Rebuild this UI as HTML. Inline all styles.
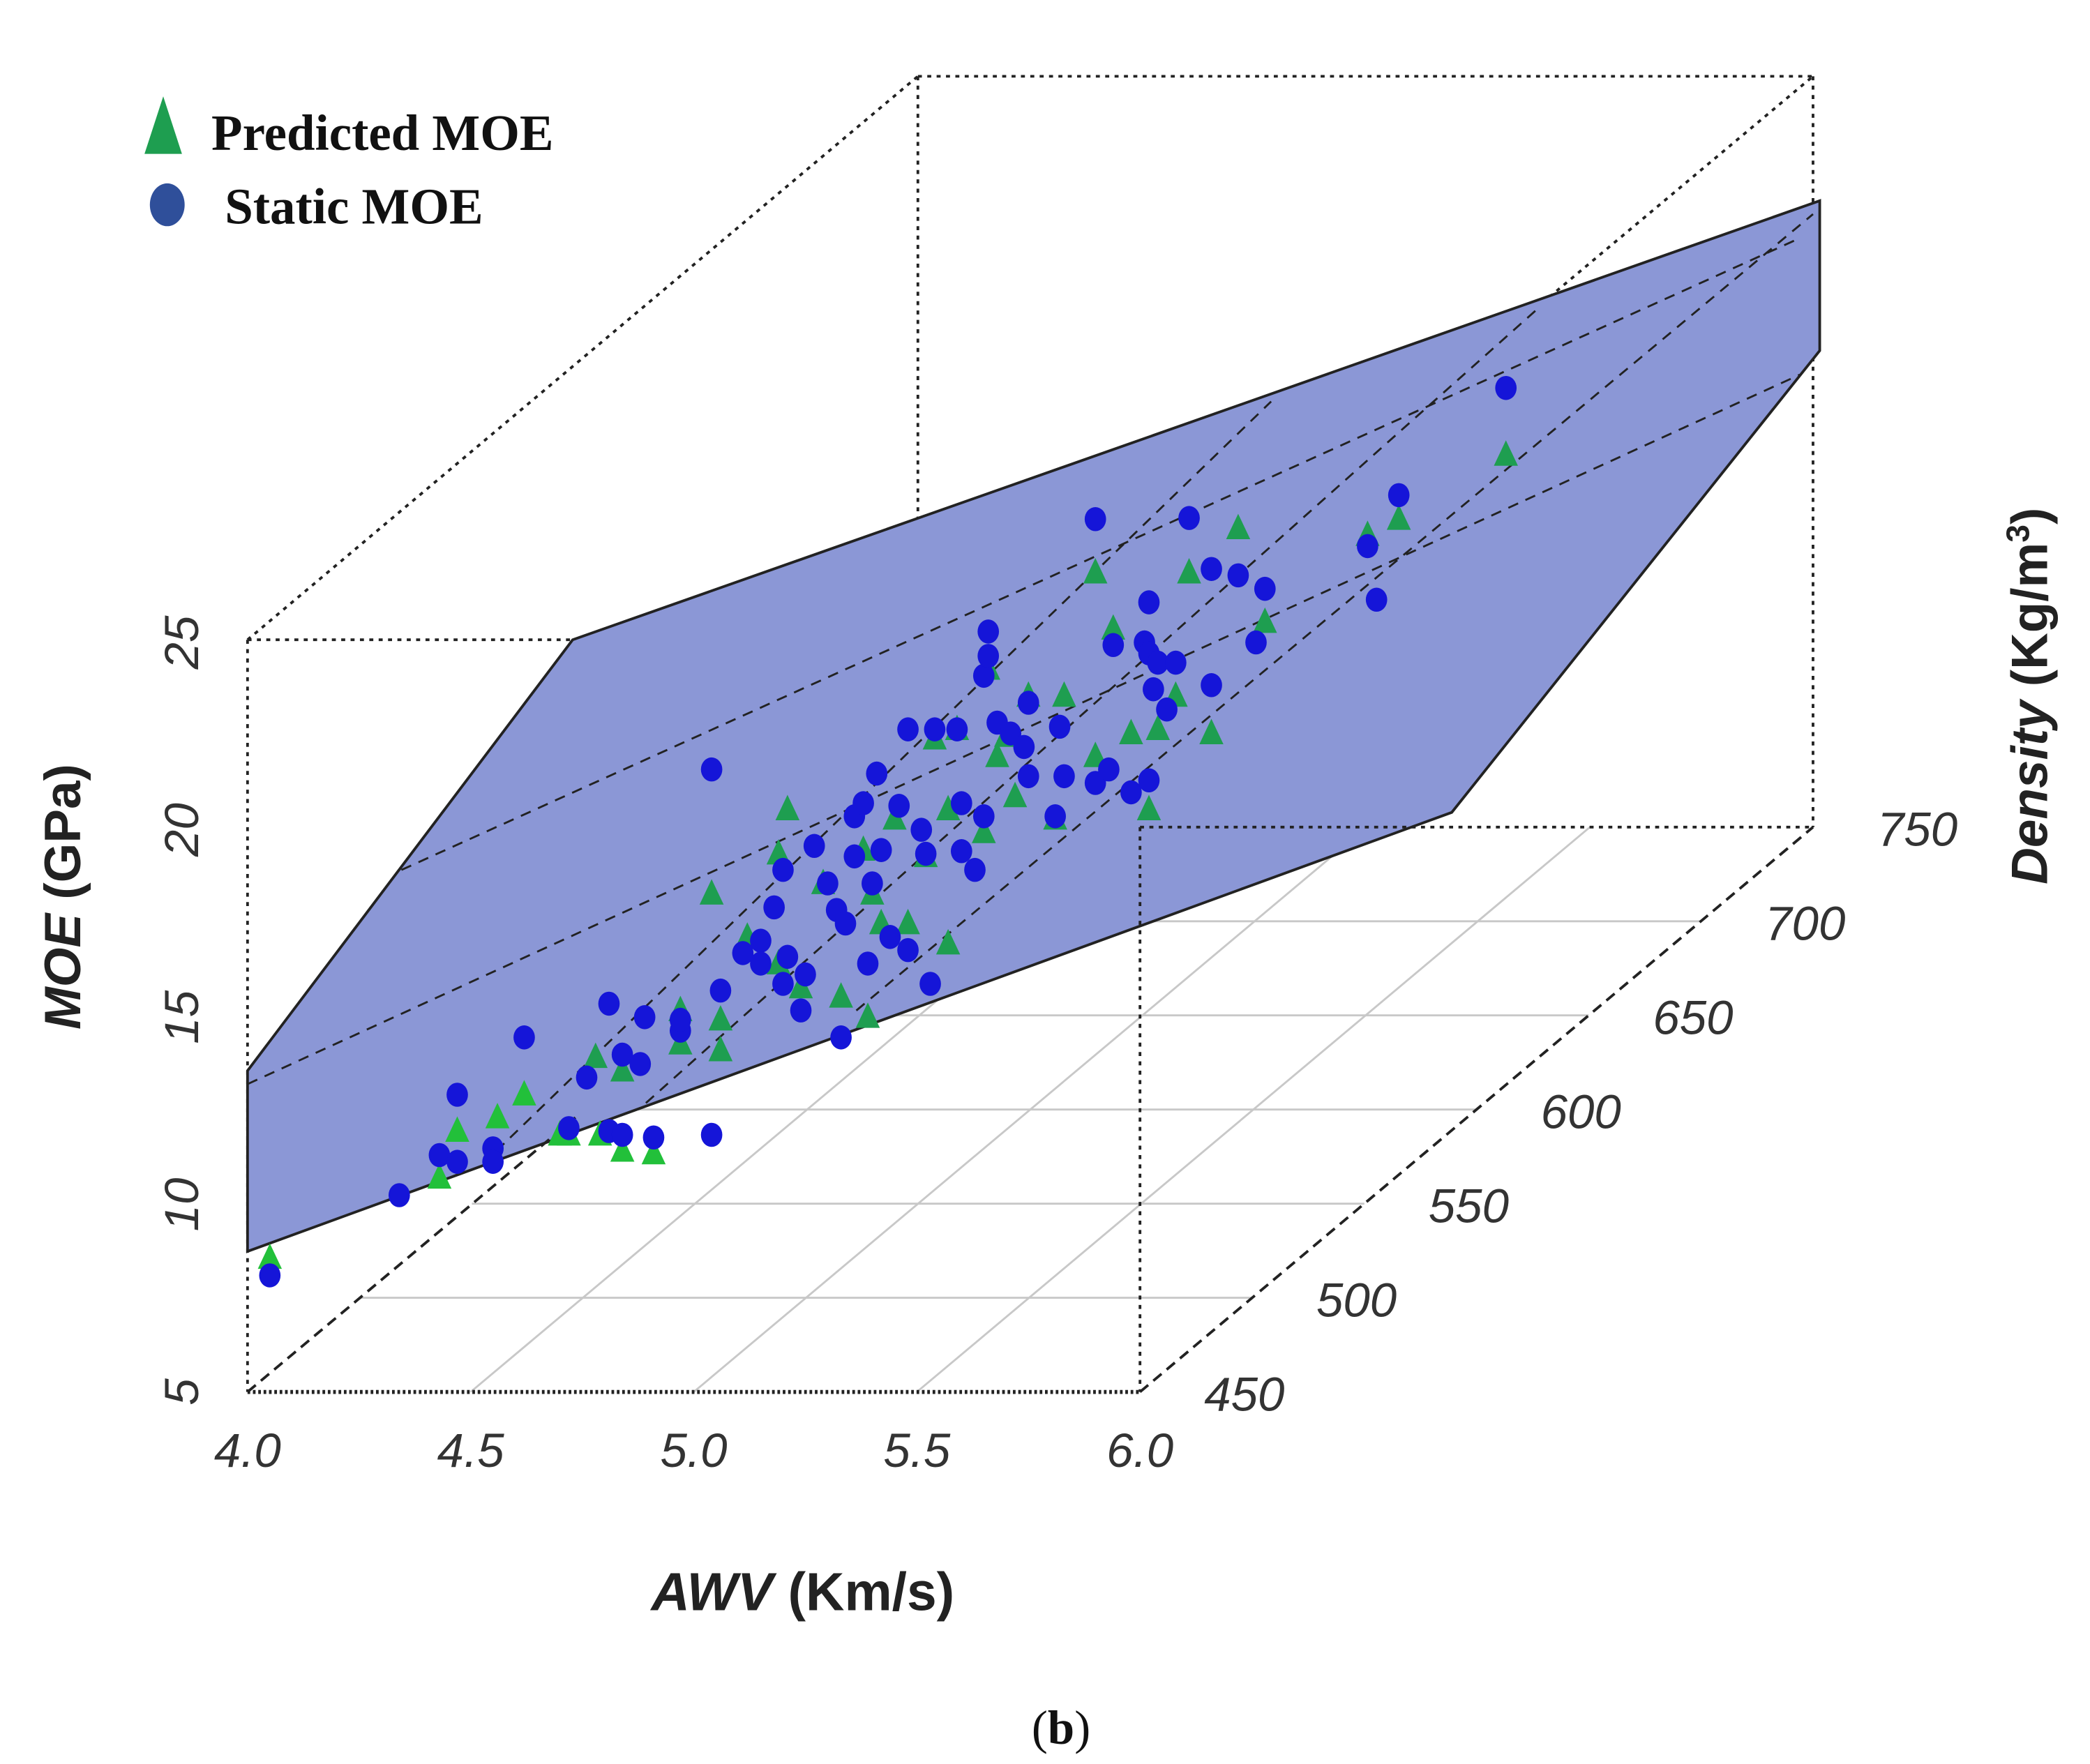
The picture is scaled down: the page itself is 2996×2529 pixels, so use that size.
<!DOCTYPE html>
<html><head><meta charset="utf-8"><style>
html,body{margin:0;padding:0;background:#fff;}
svg{display:block;}
</style></head><body>
<svg id="chart" width="2996" height="2529" viewBox="0 0 1562 1318" preserveAspectRatio="none" xmlns="http://www.w3.org/2000/svg">
<defs><clipPath id="planeClip"><polygon points="185,935 1085,607 1360,262 1360,150 428,478 185,800"/></clipPath></defs>
<g id="floor"></g>
<g stroke="#222" stroke-width="2" stroke-dasharray="3,4" fill="none">
<line x1="185" y1="478" x2="185" y2="1040"/>
<line x1="686" y1="57" x2="686" y2="618"/>
<line x1="1355" y1="57" x2="1355" y2="618"/>
<line x1="185" y1="478" x2="686" y2="57"/>
<line x1="686" y1="57" x2="1355" y2="57"/>
<line x1="185" y1="478" x2="852" y2="478"/>
<line x1="852" y1="478" x2="1355" y2="57"/>
</g>
<polygon points="185,935 1085,607 1360,262 1360,150 428,478 185,800" fill="#8b97d6" stroke="#222" stroke-width="2"/>
<g stroke="#222" stroke-width="1.5" stroke-dasharray="8,6" fill="none" clip-path="url(#planeClip)">
<line x1="185" y1="810" x2="1345" y2="280"/>
<line x1="300" y1="650" x2="1345" y2="178"/>
<line x1="190" y1="1035" x2="950" y2="300"/>
<line x1="420" y1="880" x2="1150" y2="230"/>
<line x1="640" y1="755" x2="1355" y2="160"/>
</g>
<g stroke="#222" stroke-width="2" stroke-dasharray="3,4" fill="none">
<line x1="852" y1="618" x2="852" y2="1040"/>
<line x1="852" y1="618" x2="1355" y2="618"/>
<line x1="185" y1="1040" x2="852" y2="1040" stroke-dasharray="2,2" stroke-width="3"/>
<line x1="185" y1="1040" x2="430" y2="835" stroke-dasharray="8,5"/>
<line x1="852" y1="1040" x2="1355" y2="618" stroke-dasharray="8,5"/>
</g>
<g id="points"></g>
<g id="labels" font-family="Liberation Sans, sans-serif" font-style="italic" font-size="36" fill="#333"></g>
<g font-family="Liberation Serif, serif" font-weight="bold" font-size="38" fill="#111">
<polygon points="122,72 108,115 136,115" fill="#1e9e50"/>
<text x="158" y="112">Predicted MOE</text>
<ellipse cx="125" cy="153" rx="13" ry="16" fill="#2f4f9a"/>
<text x="168" y="167">Static MOE</text>
</g>
<text x="600" y="1203" text-anchor="middle" font-family="Liberation Sans, sans-serif" font-size="40" font-weight="bold" fill="#222"><tspan font-style="italic">AWV</tspan>  (Km/s)</text>
<text transform="translate(60,670) rotate(-90)" text-anchor="middle" font-family="Liberation Sans, sans-serif" font-size="38" font-weight="bold" fill="#222"><tspan font-style="italic">MOE</tspan>   (GPa)</text>
<text transform="translate(1530,520) rotate(-90)" text-anchor="middle" font-family="Liberation Sans, sans-serif" font-size="38" font-weight="bold" fill="#222"><tspan font-style="italic">Density</tspan>  (Kg/m<tspan baseline-shift="super" font-size="24">3</tspan>)</text>
<text x="793" y="1303" text-anchor="middle" font-family="Liberation Serif, serif" font-size="36" fill="#111">(<tspan font-weight="bold">b</tspan>)</text>
</svg>
<script>
const awvTicks=[4.0,4.5,5.0,5.5,6.0];
const moeTicks=[5,10,15,20,25];
const densTicks=[450,500,550,600,650,700,750];
const staticAwv=[4.05,4.34,4.43,4.47,4.55,4.55,4.47,4.62,4.72,4.81,4.84,4.91,5.04,4.76,4.81,4.84,4.88,4.89,4.97,4.97,5.06,5.04,5.11,5.15,5.15,5.20,5.21,5.24,5.25,5.20,5.27,5.30,5.32,5.34,5.33,5.36,5.36,5.38,5.39,5.40,5.41,5.42,5.44,5.46,5.48,5.51,5.52,5.53,5.48,5.54,5.59,5.60,5.60,5.63,5.65,5.65,5.66,5.66,5.68,5.71,5.74,5.75,5.75,5.81,5.82,5.83,5.90,5.90,5.93,5.94,5.98,6.01,6.02,6.02,6.02,6.03,6.04,6.06,6.08,6.11,6.16,6.16,6.22,6.26,6.28,6.51,6.53,6.58,6.82,5.18];
const staticMoe=[8.11,10.25,11.32,11.14,11.50,11.14,12.93,14.46,12.04,11.96,11.86,11.79,11.86,13.39,15.36,14.00,13.75,15.00,14.64,14.93,15.71,21.61,16.71,17.04,16.43,15.89,16.61,15.18,16.14,18.93,19.57,18.57,17.86,17.50,14.46,19.29,20.36,20.71,16.43,18.57,21.50,19.46,17.14,20.64,16.79,20.00,19.36,15.89,22.68,22.68,22.68,20.71,19.43,18.93,20.36,24.11,25.29,24.64,22.86,22.57,22.21,21.43,23.39,20.36,22.75,21.43,21.25,28.29,21.61,24.93,21.00,25.00,26.07,24.71,21.32,23.75,24.46,23.21,24.46,28.32,26.96,23.86,26.79,25.00,26.43,27.57,26.14,28.93,31.79,17.93];
const predAwv=[4.05,4.43,4.47,4.56,4.62,4.72,4.78,4.79,4.84,4.91,4.84,4.97,4.97,5.06,5.06,5.04,5.12,5.19,5.21,5.19,5.24,5.29,5.33,5.38,5.39,5.40,5.42,5.45,5.48,5.52,5.57,5.57,5.54,5.59,5.65,5.66,5.68,5.70,5.72,5.75,5.81,5.83,5.90,5.90,5.94,5.98,6.02,6.04,6.08,6.11,6.16,6.22,6.28,6.51,6.58,6.82,4.70];
const predMoe=[8.57,10.71,11.96,12.32,12.93,11.86,13.93,11.86,11.43,11.36,13.57,14.29,15.18,14.11,14.93,18.29,17.14,16.43,20.54,19.36,15.79,18.57,15.54,19.46,15.00,18.29,17.50,20.29,17.50,19.29,20.54,16.96,22.43,22.68,19.93,24.29,21.96,22.50,20.89,23.57,20.29,23.57,26.86,21.96,25.36,22.57,20.54,22.68,23.57,26.86,22.57,28.04,25.54,27.86,28.29,30.00,11.86];
const NS='http://www.w3.org/2000/svg';
function sx(awv,dens){return 185+(awv-4)*333.5+(dens-450)/300*503;}
function sy(moe,dens){return 1040-(moe-5)*28-(dens-450)/300*422;}
function mk(tag,attrs,parent){const e=document.createElementNS(NS,tag);for(const k in attrs)e.setAttribute(k,attrs[k]);parent.appendChild(e);return e;}
const floor=document.getElementById('floor');
densTicks.slice(1,6).forEach(d=>{
  const l=mk('line',{x1:sx(4,d),y1:sy(5,d),x2:sx(6,d),y2:sy(5,d),stroke:'#c8c8c8','stroke-width':1.5},floor);
  
  
});
awvTicks.slice(1,4).forEach(a=>{
  const l=mk('line',{x1:sx(a,450),y1:sy(5,450),x2:sx(a,750),y2:sy(5,750),stroke:'#c8c8c8','stroke-width':1.5},floor);
  
  
});
const pts=document.getElementById('points');
predAwv.forEach((a,i)=>{
  const x=sx(a,450),y=sy(predMoe[i],450);
  const c=predMoe[i]<13&&a<5.1?'#22c03a':'#1e9e50';
  const t=mk('polygon',{points:`${x},${y-11} ${x-9},${y+8} ${x+9},${y+8}`,fill:c},pts);
  
  
});
staticAwv.forEach((a,i)=>{
  const e=mk('ellipse',{cx:sx(a,450),cy:sy(staticMoe[i],450),rx:8,ry:9,fill:'#1515d8'},pts);
  
  
});
const lab=document.getElementById('labels');
awvTicks.forEach(a=>{
  const t=mk('text',{x:sx(a,450),y:1096,'text-anchor':'middle'},lab);
  t.textContent=a.toFixed(1);
  
  
});
moeTicks.forEach(m=>{
  const y=sy(m,450);
  const t=mk('text',{transform:`translate(148,${y}) rotate(-90)`,'text-anchor':'middle'},lab);
  t.textContent=m;
  
  
});
densTicks.forEach(d=>{
  const t=mk('text',{x:sx(6,d)+78,y:sy(5,d)+14,'text-anchor':'middle'},lab);
  t.textContent=d;
  
  
});
</script>
</body></html>
